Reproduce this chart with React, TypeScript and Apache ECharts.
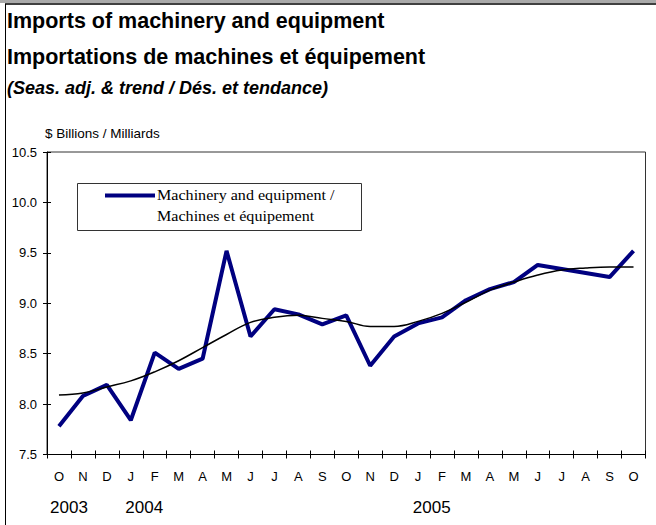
import React, { useEffect, useRef } from "react";
import * as echarts from "echarts";

const months = ["O","N","D","J","F","M","A","M","J","J","A","S","O","N","D","J","F","M","A","M","J","J","A","S","O"];
const machinery = [7.78,8.08,8.19,7.84,8.51,8.35,8.45,9.52,8.67,8.94,8.89,8.79,8.88,8.38,8.67,8.80,8.86,9.03,9.14,9.21,9.38,9.34,9.30,9.26,9.52];
const trend = [8.09,8.11,8.17,8.23,8.32,8.43,8.56,8.69,8.81,8.86,8.88,8.85,8.82,8.77,8.77,8.82,8.90,9.01,9.13,9.21,9.28,9.33,9.35,9.36,9.36];
const yearLabels = ["2003","2004","2005"];
const yearPositions = [0.42, 3.56, 15.57];
const titleLines = ["Imports of machinery and equipment","Importations de machines et équipement"];
const subtitle = "(Seas. adj. & trend / Dés. et tendance)";
const unitLabel = "$ Billions / Milliards";
const legendLines = ["Machinery and equipment /","Machines et équipement"];

export default function App() {
  const ref = useRef<HTMLDivElement>(null);
  useEffect(() => {
    document.body.style.margin = "0";
    const chart = echarts.init(ref.current!, null, { renderer: "svg" });
    const sans = "Liberation Sans, Arial, sans-serif";
    const serif = "Liberation Serif, Times New Roman, serif";
    chart.setOption({
      animation: false,
      grid: { left: 47, top: 152, right: 10.5, bottom: 70.5, show: true, borderColor: "#333", borderWidth: 1, containLabel: false },
      xAxis: [
        {
          type: "category",
          data: months,
          boundaryGap: true,
          axisLine: { lineStyle: { color: "#000", width: 1 } },
          axisTick: { show: true, length: 4, lineStyle: { color: "#000" } },
          axisLabel: { color: "#000", fontFamily: sans, fontSize: 13, margin: 15 },
          splitLine: { show: false },
        },
        {
          type: "category",
          data: months,
          position: "bottom",
          boundaryGap: true,
          axisLine: { show: false },
          axisTick: { show: true, inside: true, length: 4, lineStyle: { color: "#000" } },
          axisLabel: { show: false },
        },
      ],
      yAxis: [
        {
          type: "value",
          min: 7.5,
          max: 10.5,
          interval: 0.5,
          axisLine: { show: true, lineStyle: { color: "#000", width: 1 } },
          axisTick: { show: true, length: 4, lineStyle: { color: "#000" } },
          axisLabel: { color: "#000", fontFamily: sans, fontSize: 13, margin: 10, formatter: (v: number) => v.toFixed(1) },
          splitLine: { show: false },
        },
        {
          type: "value",
          min: 7.5,
          max: 10.5,
          interval: 0.5,
          position: "left",
          axisLine: { show: false },
          axisTick: { show: true, inside: true, length: 4, lineStyle: { color: "#000" } },
          axisLabel: { show: false },
          splitLine: { show: false },
        },
      ],
      series: [
        {
          name: "trend",
          type: "line",
          data: trend,
          smooth: 0.4,
          symbol: "none",
          lineStyle: { color: "#000", width: 1.5 },
          z: 3,
        },
        {
          name: legendLines.join("\n"),
          type: "line",
          data: machinery,
          symbol: "none",
          lineStyle: { color: "#000080", width: 4 },
          z: 2,
        },
      ],
    });

    const x0 = chart.convertToPixel({ xAxisIndex: 0 }, 0) as number;
    const step = (chart.convertToPixel({ xAxisIndex: 0 }, 1) as number) - x0;
    const yearTexts = yearLabels.map((t, i) => ({
      type: "text",
      x: x0 + yearPositions[i] * step,
      y: 507,
      style: { text: t, fontFamily: sans, fontSize: 17, fill: "#000", align: "center", verticalAlign: "middle" },
    }));

    chart.setOption({
      graphic: [
        { type: "rect", shape: { x: 0, y: 0, width: 656, height: 3 }, style: { fill: "#aaa" }, silent: true },
        { type: "line", shape: { x1: 5, y1: 4, x2: 656, y2: 4 }, style: { stroke: "#000", lineWidth: 1.5 } },
        { type: "line", shape: { x1: 5.5, y1: 4, x2: 5.5, y2: 525 }, style: { stroke: "#000", lineWidth: 1 } },
        { type: "text", x: 7, y: 21, style: { text: titleLines[0], fontFamily: sans, fontWeight: "bold", fontSize: 21.5, fill: "#000", verticalAlign: "middle" } },
        { type: "text", x: 7, y: 57, style: { text: titleLines[1], fontFamily: sans, fontWeight: "bold", fontSize: 21.5, fill: "#000", verticalAlign: "middle" } },
        { type: "text", x: 7, y: 88, style: { text: subtitle, fontFamily: sans, fontWeight: "bold", fontStyle: "italic", fontSize: 18, fill: "#000", verticalAlign: "middle" } },
        { type: "text", x: 45, y: 133, style: { text: unitLabel, fontFamily: sans, fontSize: 13.5, fill: "#000", verticalAlign: "middle" } },
        { type: "rect", shape: { x: 77.5, y: 183.5, width: 284, height: 47 }, style: { fill: "#fff", stroke: "#333", lineWidth: 1 }, z: 10 },
        { type: "line", shape: { x1: 105, y1: 195.5, x2: 155, y2: 195.5 }, style: { stroke: "#000080", lineWidth: 4 }, z: 11 },
        { type: "text", x: 157, y: 195.5, scaleX: 1.15, style: { text: legendLines[0], fontFamily: serif, fontSize: 14, fill: "#000", verticalAlign: "middle" }, z: 11 },
        { type: "text", x: 157, y: 216, scaleX: 1.15, style: { text: legendLines[1], fontFamily: serif, fontSize: 14, fill: "#000", verticalAlign: "middle" }, z: 11 },
        ...yearTexts,
      ],
    });
    return () => chart.dispose();
  }, []);
  return <div ref={ref} style={{ width: 656, height: 525 }} />;
}
